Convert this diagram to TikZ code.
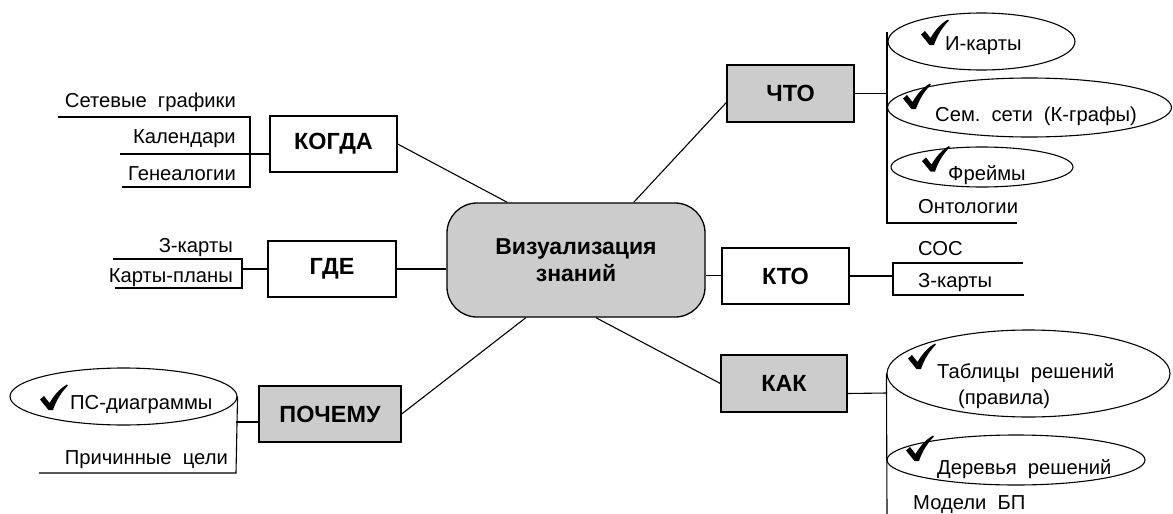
\documentclass[tikz,border=0pt]{standalone}
\usepackage{fontspec}
\setmainfont{Liberation Sans}
\usetikzlibrary{shapes.geometric}
\newcommand{\wsp}{\hspace{0.55em}}
\begin{document}
\begin{tikzpicture}[x=1pt,y=-1pt,
  ln/.style={line width=1.1pt},
  box/.style={draw,line width=1.3pt,minimum width=127pt,minimum height=56pt,inner sep=0pt,font=\fontsize{23.4}{27}\selectfont\bfseries},
  gbox/.style={box,fill=gray!40},
  txt/.style={inner sep=0pt,font=\fontsize{20.2}{24}\selectfont},
  ell/.style={draw,ellipse,line width=1.1pt,inner sep=0pt},
  chk/.pic={\fill (-1.5,1) -- (-10,-9.5) -- (-6,-13) -- (-0.5,-6) .. controls (4,-13.5) and (9,-20) .. (17,-24.5) -- (17.8,-23.2) .. controls (11,-16.5) and (6,-8) .. (3,1) -- cycle;}
]
\useasboundingbox (0,0) rectangle (1173,514);

% central node
\node[draw,line width=1.3pt,fill=gray!40,rounded corners=30pt,minimum width=258pt,minimum height=114pt,align=center,font=\fontsize{23}{27.3}\selectfont\bfseries] (cen) at (576,260) {Визуализация\\знаний};

% category boxes
\node[box] (kogda) at (333.5,144) {КОГДА};
\node[box,minimum width=128pt] (gde) at (332,269) {ГДЕ};
\node[gbox,minimum width=142pt] (poch) at (330,414) {ПОЧЕМУ};
\node[gbox,minimum height=57pt] (chto) at (790.5,93.5) {ЧТО};
\node[box] (kto) at (785.5,276) {КТО};
\node[gbox,minimum width=126pt,minimum height=57pt] (kak) at (784,383.5) {КАК};

% connectors to centre
\draw[ln] (kogda.east) -- (cen.140);
\draw[ln] (gde.east) -- (gde.east -| cen.west);
\draw[ln] (poch.east) -- (cen.229);
\draw[ln] (chto.188) -- (cen.45.5);
\draw[ln] (cen.-7) -- (cen.-7 -| kto.west);
\draw[ln] (cen.289) -- (kak.west);

% ---- КОГДА items
\node[txt,anchor=base east] (k1) at (236,107) {Сетевые\wsp графики};
\node[txt,anchor=base east] (k2) at (236,143) {Календари};
\node[txt,anchor=base east] (k3) at (236,180) {Генеалогии};
\draw[ln] (58,117) -- (250,117) -- (250,187) -- (122,187);
\draw[ln] (120,154) -- ([yshift=-10pt]kogda.west);

% ---- ГДЕ items
\node[txt,anchor=base east] (g1) at (233,252) {З-карты};
\node[txt,anchor=base east] (g2) at (233,282) {Карты-планы};
\draw[ln] (113,259) -- (242,259) -- (242,288) -- (115,288);
\coordinate (gv) at (242,269);
\draw[ln] (gv) -- (gde.west);

% ---- ПОЧЕМУ items
\node[ell,minimum width=227pt,minimum height=57pt] (e6) at (123.5,396.5) {};
\pic at (50,409) {chk};
\node[txt,anchor=base west] (p1) at (70,409) {ПС-диаграммы};
\node[txt,anchor=base east] (p2) at (228,464) {Причинные\wsp цели};
\draw[ln] (e6.east) -- (236,473) -- (39,473);
\draw[ln] (236,422) -- ([yshift=-8pt]poch.west);

% ---- ЧТО items
\node[ell,minimum width=187pt,minimum height=57pt] (e1) at (981.5,41.5) {};
\node[ell,minimum width=284pt,minimum height=59pt] (e2) at (1029.5,107.5) {};
\node[ell,minimum width=182pt,minimum height=40pt] (e3) at (982,167) {};
\pic at (931,44) {chk};
\pic at (913,108) {chk};
\pic at (932,170.5) {chk};
\node[txt,anchor=base west] (c1) at (945,50) {И-карты};
\node[txt,anchor=base west] (c2) at (935,121) {Сем.\wsp сети\wsp (К-графы)};
\node[txt,anchor=base west] (c3) at (948,180) {Фреймы};
\node[txt,anchor=base west] (c4) at (918,213) {Онтологии};
\coordinate (cv) at (887,32);
\draw[ln] (cv) -- (887,223) -- (1017,223);
\draw[ln] (chto.east) -- (chto.east -| cv);

% ---- КТО items
\node[txt,anchor=base west] (t1) at (918,255) {СОС};
\node[txt,anchor=base west] (t2) at (918,287) {З-карты};
\draw[ln] (1023,263) -- (893,263) -- (893,295) -- (1024,295);
\coordinate (tv) at (893,276);
\draw[ln] (kto.east) -- (tv);

% ---- КАК items
\node[ell,minimum width=283pt,minimum height=87pt] (e4) at (1028.5,373.5) {};
\node[ell,minimum width=258pt,minimum height=50pt] (e5) at (1016,460) {};
\pic at (918,368) {chk};
\pic at (916,460) {chk};
\node[txt,anchor=base west] (a1) at (937,378) {Таблицы\wsp решений};
\node[txt,anchor=base west] (a2) at (958,404) {(правила)};
\node[txt,anchor=base west] (a3) at (937,474) {Деревья\wsp решений};
\node[txt,anchor=base west] (a4) at (913,509) {Модели\wsp БП};
\coordinate (av) at (887,393);
\draw[ln] (e4.west) -- (887,514);
\draw[ln] ([yshift=-10pt]kak.east) -- (av);
\end{tikzpicture}
\end{document}
